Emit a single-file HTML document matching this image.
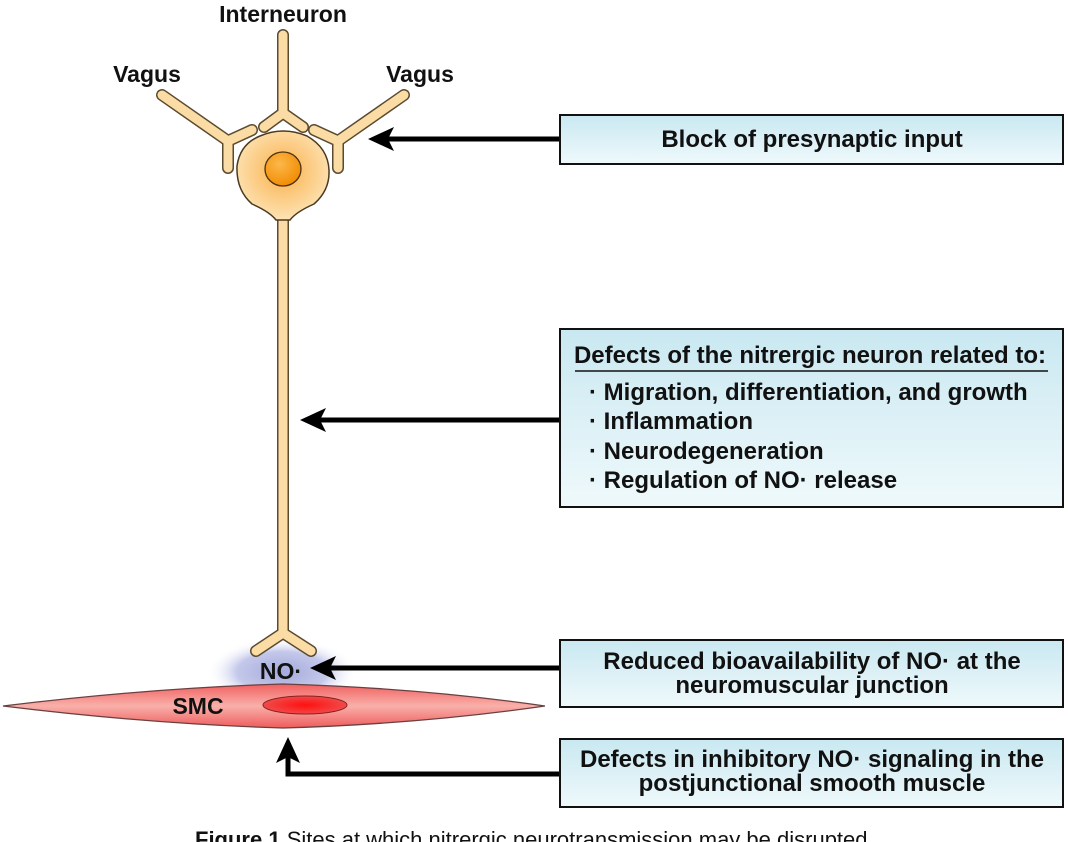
<!DOCTYPE html>
<html><head><meta charset="utf-8"><style>
html,body{margin:0;padding:0;background:#fff;}
svg{display:block;font-family:"Liberation Sans",Arial,sans-serif;}
</style></head><body>
<svg width="1068" height="842" viewBox="0 0 1068 842" xmlns="http://www.w3.org/2000/svg">
<defs>
<linearGradient id="bx" x1="0" y1="0" x2="0" y2="1"><stop offset="0" stop-color="#c9e8f1"/><stop offset="1" stop-color="#eff9fb"/></linearGradient>
<radialGradient id="soma" cx="0.5" cy="0.45" r="0.55"><stop offset="0.3" stop-color="#fbbf6a"/><stop offset="1" stop-color="#fde3b4"/></radialGradient>
<radialGradient id="nuc" cx="0.4" cy="0.35" r="0.7"><stop offset="0" stop-color="#fdb84a"/><stop offset="1" stop-color="#f08a00"/></radialGradient>
<radialGradient id="glow" cx="0.5" cy="0.5" r="0.5"><stop offset="0" stop-color="#a4aadb"/><stop offset="0.6" stop-color="#c4c8ea"/><stop offset="1" stop-color="#ffffff" stop-opacity="0"/></radialGradient>
<linearGradient id="smc" x1="0" y1="0" x2="0" y2="1"><stop offset="0" stop-color="#f06060"/><stop offset="0.5" stop-color="#f9b0aa"/><stop offset="1" stop-color="#ee5c5c"/></linearGradient>
<radialGradient id="smn" cx="0.5" cy="0.5" r="0.5"><stop offset="0" stop-color="#ff1010"/><stop offset="1" stop-color="#f04a4a"/></radialGradient>
</defs>

<ellipse cx="282" cy="672" rx="75" ry="34" fill="url(#glow)"/>

<g stroke="#5a4a30" stroke-width="12" stroke-linecap="round" fill="none" stroke-linejoin="round">
<path d="M283 35 L283 113 M264 127 L283 113 L303 127"/>
<path d="M162 95 L228 141 M252 130 L228 141 L228 168"/>
<path d="M404 95 L338 141 M314 130 L338 141 L338 168"/>
<path d="M283 210 L283 633 M256 651 L283 633 L311 651"/>
</g>
<g stroke="#fbdca5" stroke-width="9" stroke-linecap="round" fill="none" stroke-linejoin="round">
<path d="M283 35 L283 113 M264 127 L283 113 L303 127"/>
<path d="M162 95 L228 141 M252 130 L228 141 L228 168"/>
<path d="M404 95 L338 141 M314 130 L338 141 L338 168"/>
<path d="M283 210 L283 633 M256 651 L283 633 L311 651"/>
</g>
<path d="M260 136 Q283 126 307 136 Q328 148 329 170 Q330 190 314 204 Q296 212 290 220 L276 220 Q270 212 252 204 Q236 190 237 166 Q240 144 260 136 Z" fill="url(#soma)" stroke="#4a3a20" stroke-width="1.5"/>
<ellipse cx="283" cy="169" rx="18" ry="17" fill="url(#nuc)" stroke="#4a3010" stroke-width="1.3"/>

<path d="M3 706 Q150 688 283 684 Q420 688 545 706 Q420 724 283 728 Q150 724 3 706 Z" fill="url(#smc)" stroke="#6a4040" stroke-width="1.3"/>
<ellipse cx="305" cy="705" rx="42" ry="9" fill="url(#smn)" stroke="#8a2020" stroke-width="1"/>

<g font-weight="bold" fill="#111" font-size="23">
<text x="283" y="22" text-anchor="middle">Interneuron</text>
<text x="147" y="82" text-anchor="middle">Vagus</text>
<text x="420" y="82" text-anchor="middle">Vagus</text>
<text x="281" y="679" text-anchor="middle">NO·</text>
<text x="198" y="714" text-anchor="middle">SMC</text>
</g>

<g stroke="#000" stroke-width="5" fill="none">
<path d="M559 139 L385 139"/>
<path d="M559 420 L317 420"/>
<path d="M559 668 L327 668"/>
<path d="M559 774 L288 774 L288 754"/>
</g>
<g fill="#000">
<path d="M368 139 L394 127 L388 139 L394 151 Z"/>
<path d="M300 420 L326 408 L320 420 L326 432 Z"/>
<path d="M310 668 L336 656 L330 668 L336 680 Z"/>
<path d="M288 737 L276 763 L288 757 L300 763 Z"/>
</g>

<g stroke="#111" stroke-width="2" fill="url(#bx)">
<rect x="560" y="115" width="503" height="49"/>
<rect x="560" y="329" width="503" height="178"/>
<rect x="560" y="640" width="503" height="67"/>
<rect x="560" y="739" width="503" height="68"/>
</g>
<line x1="575" y1="371" x2="1048" y2="371" stroke="#111" stroke-width="1.5"/>

<g font-weight="bold" fill="#111" font-size="24">
<text x="812" y="147" text-anchor="middle">Block of presynaptic input</text>
<text x="810" y="363" text-anchor="middle">Defects of the nitrergic neuron related to:</text>
<text x="589" y="400">· Migration, differentiation, and growth</text>
<text x="589" y="429">· Inflammation</text>
<text x="589" y="459">· Neurodegeneration</text>
<text x="589" y="488">· Regulation of NO· release</text>
<text x="812" y="669" text-anchor="middle">Reduced bioavailability of NO· at the</text>
<text x="812" y="693" text-anchor="middle">neuromuscular junction</text>
<text x="812" y="767" text-anchor="middle">Defects in inhibitory NO· signaling in the</text>
<text x="812" y="791" text-anchor="middle">postjunctional smooth muscle</text>
</g>

<text x="195" y="847" font-size="22" fill="#111"><tspan font-weight="bold">Figure 1</tspan>   Sites at which nitrergic neurotransmission may be disrupted</text>
</svg>
</body></html>
